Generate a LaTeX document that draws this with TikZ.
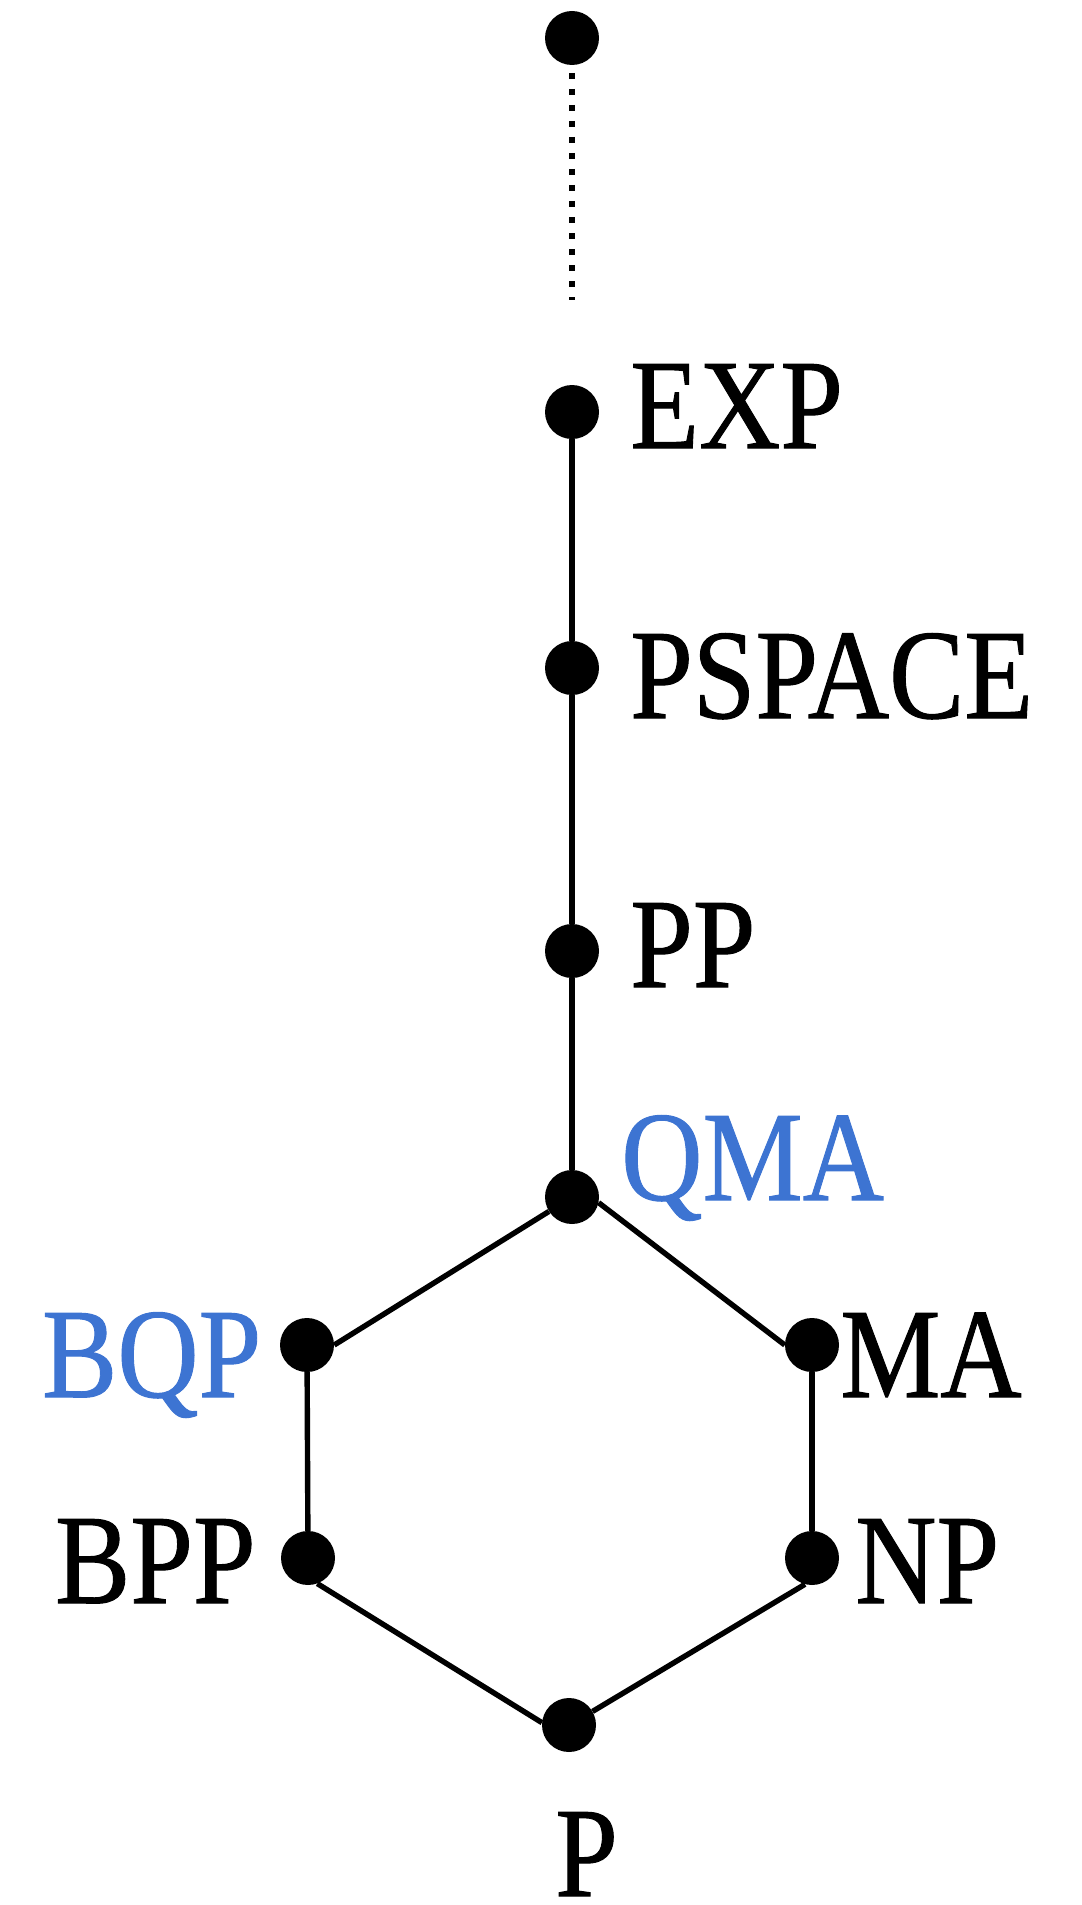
\documentclass[tikz,border=0pt]{standalone}
\usepackage{fontspec}
\setmainfont{Liberation Serif}[FakeBold=0.8]
\definecolor{qblue}{RGB}{61,116,210}
\begin{document}
\begin{tikzpicture}[x=1pt,y=-1pt,
  dot/.style={circle,fill=black,inner sep=0pt,minimum size=54pt},
  edge/.style={line width=5.4pt},
  lbl/.style={anchor=base west,inner sep=0pt,font=\fontsize{128}{128}\selectfont},
  qlbl/.style={lbl,text=qblue}]
\useasboundingbox (0,0) rectangle (1081,1905);
\node[dot] (top) at (572,38) {};
\node[dot] (exp) at (572,412) {};
\node[dot] (pspace) at (572,668) {};
\node[dot] (pp) at (572,951) {};
\node[dot] (qma) at (572,1197) {};
\node[dot] (bqp) at (307,1345) {};
\node[dot] (ma) at (812,1345) {};
\node[dot] (bpp) at (308,1558) {};
\node[dot] (np) at (812,1558) {};
\node[dot] (p) at (569,1725) {};
\coordinate (dotsstart) at (572,73);
\coordinate (dotsend) at (572,300);
\draw[line width=6pt,dash pattern=on 6pt off 10pt] (dotsstart) -- (dotsend);
\draw[edge] (exp) -- (pspace) -- (pp) -- (qma);
\draw[edge] (qma.212) -- (bqp.east);
\draw[edge] (qma.-12) -- (ma.west);
\draw[edge] (bqp) -- (bpp);
\draw[edge] (ma) -- (np);
\draw[edge] (bpp.-70) -- (p.175);
\draw[edge] (p.30) -- (np.255);
% labels
\node[lbl] (lexp) at (630,448) {\scalebox{0.88}[1]{EXP}};
\node[lbl] (lpspace) at (630,718) {\scalebox{0.88}[1]{PSPACE}};
\node[lbl] (lpp) at (630,987) {\scalebox{0.88}[1]{PP}};
\node[qlbl] (lqma) at (621,1200) {\scalebox{0.88}[1]{QMA}};
\node[qlbl] (lbqp) at (42,1397) {\scalebox{0.88}[1]{BQP}};
\node[lbl] (lma) at (840,1397) {\scalebox{0.88}[1]{MA}};
\node[lbl] (lbpp) at (55,1603) {\scalebox{0.88}[1]{BPP}};
\node[lbl] (lnp) at (855,1603) {\scalebox{0.88}[1]{NP}};
\node[lbl] (lp) at (555,1896) {\scalebox{0.88}[1]{P}};
\end{tikzpicture}
\end{document}
